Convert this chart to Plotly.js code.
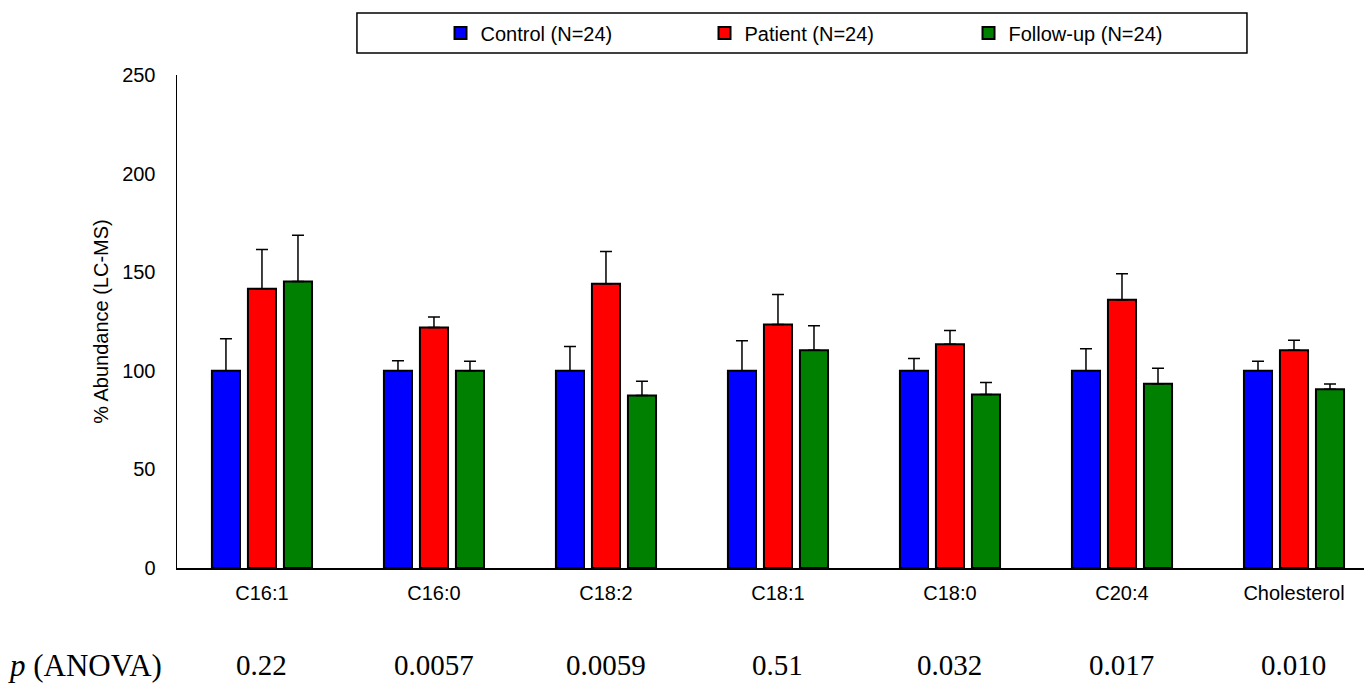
<!DOCTYPE html>
<html>
<head>
<meta charset="utf-8">
<script src="https://cdn.plot.ly/plotly-3.0.1.min.js"></script>
<style>html,body{margin:0;padding:0;background:#fff;}#chart{width:1364px;height:691px;}</style>
</head>
<body>
<div id="chart"></div>
<script>
var categories = ['C16:1','C16:0','C18:2','C18:1','C18:0','C20:4','Cholesterol'];
var control = [100,100,100,100,100,100,100];
var controlErr = [16.3,5.1,12.3,15.2,6.3,11.2,4.9];
var patient = [141.6,121.9,144.1,123.5,113.5,136.0,110.4];
var patientErr = [19.9,5.4,16.4,15.2,6.9,13.2,5.1];
var followup = [145.3,100,87.5,110.4,88.0,93.4,90.6];
var followupErr = [23.4,4.9,7.2,12.4,6.1,7.9,2.7];
var pValues = ['0.22','0.0057','0.0059','0.51','0.032','0.017','0.010'];
var seriesNames = ['Control (N=24)','Patient (N=24)','Follow-up (N=24)'];
var colors = ['#0000FF','#FF0000','#008000'];

function zeros(n){var a=[];for(var i=0;i<n;i++)a.push(0);return a;}
function mk(name, vals, errs, color){
  return {
    type:'bar', name:name, x:categories, y:vals,
    marker:{color:color, line:{color:'#000', width:2}},
    error_y:{type:'data', symmetric:false, array:errs, arrayminus:zeros(errs.length),
             color:'#000', thickness:1.5, width:6},
    hoverinfo:'skip'
  };
}
var data = [
  mk(seriesNames[0], control, controlErr, colors[0]),
  mk(seriesNames[1], patient, patientErr, colors[1]),
  mk(seriesNames[2], followup, followupErr, colors[2])
];

var serif = '"Liberation Serif","Times New Roman",serif';
var annotations = [{
  xref:'paper', yref:'paper', x:-0.0775, y:-0.197, xanchor:'center', yanchor:'middle',
  text:'<i>p</i> (ANOVA)', showarrow:false,
  font:{family:serif, size:31, color:'#000'}
}];
for (var i=0;i<categories.length;i++){
  annotations.push({
    xref:'x', yref:'paper', x:categories[i], y:-0.197, xanchor:'center', yanchor:'middle',
    text:pValues[i], showarrow:false,
    font:{family:serif, size:29, color:'#000'}
  });
}

var layout = {
  width:1364, height:691,
  margin:{l:177, r:0, t:75, b:123, pad:0},
  paper_bgcolor:'#fff', plot_bgcolor:'#fff',
  font:{family:'"Liberation Sans",Arial,sans-serif', size:20, color:'#000'},
  barmode:'group', bargap:0.372, bargroupgap:0.22,
  xaxis:{
    type:'category', range:[-0.494, 6.407],
    showline:true, linecolor:'#000', linewidth:1.5,
    showgrid:false, zeroline:false, ticks:'', ticklabelstandoff:6,
    tickfont:{size:20}
  },
  yaxis:{
    range:[0,250], tickvals:[0,50,100,150,200,250],
    showline:true, linecolor:'#000', linewidth:1.5,
    showgrid:false, zeroline:false, ticks:'', ticklabelstandoff:16,
    tickfont:{size:20},
    title:{text:'% Abundance (LC-MS)', font:{size:20}, standoff:8}
  },
  showlegend:true,
  legend:{
    orientation:'h', xref:'paper', yref:'paper', x:0.222, y:1.085,
    xanchor:'left', yanchor:'middle', entrywidth:219, entrywidthmode:'pixels',
    font:{size:20}, bgcolor:'rgba(0,0,0,0)', borderwidth:0, traceorder:'normal',
    itemwidth:30
  },
  shapes:[{
    type:'rect', xref:'paper', yref:'paper', x0:0.1516, x1:0.9014, y0:1.0446, y1:1.1258,
    line:{color:'#000', width:1.5}, fillcolor:'rgba(0,0,0,0)', layer:'above'
  }],
  annotations:annotations
};
Plotly.newPlot('chart', data, layout, {displayModeBar:false, staticPlot:true});
</script>
</body>
</html>
